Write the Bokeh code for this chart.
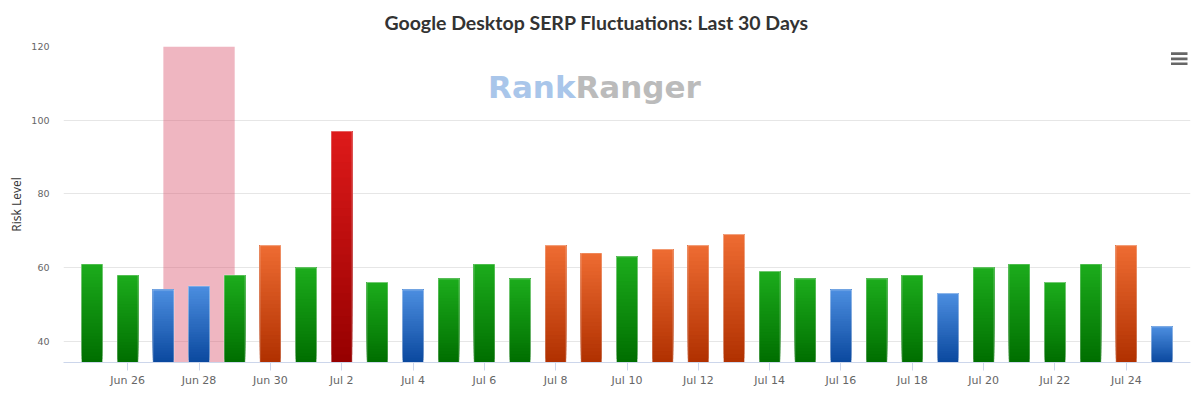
import numpy as np
from bokeh.plotting import figure
from bokeh.models import FixedTicker, Label, Range1d, ColumnDataSource, BoxAnnotation
from bokeh.embed import file_html
from bokeh.resources import INLINE

# ---------------- data ----------------
dates = ["Jun 25", "Jun 26", "Jun 27", "Jun 28", "Jun 29", "Jun 30", "Jul 1",
         "Jul 2", "Jul 3", "Jul 4", "Jul 5", "Jul 6", "Jul 7", "Jul 8", "Jul 9",
         "Jul 10", "Jul 11", "Jul 12", "Jul 13", "Jul 14", "Jul 15", "Jul 16",
         "Jul 17", "Jul 18", "Jul 19", "Jul 20", "Jul 21", "Jul 22", "Jul 23",
         "Jul 24", "Jul 25"]
risk = [61, 58, 54, 55, 58, 66, 60, 97, 56, 54, 57, 61, 57, 66, 64, 63, 65, 66,
        69, 59, 57, 54, 57, 58, 53, 60, 61, 56, 61, 66, 44]
level = ["green", "green", "blue", "blue", "green", "orange", "green", "red",
         "green", "blue", "green", "green", "green", "orange", "orange", "green",
         "orange", "orange", "orange", "green", "green", "blue", "green", "green",
         "blue", "green", "green", "green", "green", "orange", "blue"]
highlight = ["Jun 27", "Jun 29"]
y_ticks = [40, 60, 80, 100, 120]
title = "Google Desktop SERP Fluctuations: Last 30 Days"
y_label = "Risk Level"

# ---------------- styling ----------------
GRAD = {  # (bottom, top)
    "green": ((0, 110, 0), (28, 172, 28)),
    "blue": ((10, 72, 158), (76, 142, 224)),
    "orange": ((176, 48, 0), (238, 108, 50)),
    "red": ((150, 0, 0), (222, 26, 26)),
}
Y_MIN, Y_MAX = 34.3, 120
BAR_W = 0.59
N_SLICES = 30

x = np.arange(len(dates))

p = figure(width=1200, height=397, output_backend="svg", toolbar_location=None,
           x_range=Range1d(-0.8, len(dates) - 0.2), y_range=Range1d(Y_MIN, Y_MAX),
           min_border_left=63, min_border_right=10, min_border_top=46,
           min_border_bottom=35)
p.outline_line_color = None
p.background_fill_color = "white"
p.border_fill_color = "white"

p.title.text = title
p.title.align = "left"
p.title.offset = 321
p.title.vertical_align = "top"
p.title.standoff = 21
p.title.text_font = "Lato"
p.title.text_font_style = "bold"
p.title.text_font_size = "19.5px"
p.title.text_color = "#333333"

# highlight band
i0, i1 = dates.index(highlight[0]), dates.index(highlight[1])
p.quad(left=[x[i0]], right=[x[i1]], bottom=[Y_MIN], top=[Y_MAX],
       fill_color=(219, 93, 117), fill_alpha=0.45, line_color=None)

# gradient bars built from stacked slices (each drawn to the bar top)
L, R, B, T, C = [], [], [], [], []
for xi, v, lv in zip(x, risk, level):
    cb, ct = GRAD[lv]
    h = v - Y_MIN
    for k in range(N_SLICES):
        f0 = k / N_SLICES
        fm = (k + 0.5) / N_SLICES
        col = tuple(int(round(cb[j] + (ct[j] - cb[j]) * fm)) for j in range(3))
        L.append(xi - BAR_W / 2)
        R.append(xi + BAR_W / 2)
        B.append(Y_MIN + f0 * h)
        T.append(v)
        C.append("#%02x%02x%02x" % col)
src = ColumnDataSource(dict(left=L, right=R, bottom=B, top=T, color=C))
p.quad(left="left", right="right", bottom="bottom", top="top", fill_color="color",
       line_color=None, source=src)
p.vbar(x=x, width=BAR_W, bottom=Y_MIN, top=risk, fill_color=None,
       line_color="white", line_alpha=0.4, line_width=1)

# axes
p.xgrid.grid_line_color = None
p.ygrid.grid_line_color = "#e6e6e6"
p.ygrid.ticker = FixedTicker(ticks=y_ticks)

p.xaxis.ticker = FixedTicker(ticks=list(x[1::2]))
p.xaxis.major_label_overrides = {int(i): dates[i] for i in x[1::2]}
p.xaxis.axis_line_color = "#ccd6eb"
p.xaxis.major_tick_line_color = "#ccd6eb"
p.xaxis.major_tick_out = 8
p.xaxis.major_tick_in = 0
p.xaxis.minor_tick_line_color = None
p.xaxis.major_label_standoff = 3
p.xaxis.major_label_text_font = "DejaVu Sans"
p.xaxis.major_label_text_font_size = "11px"
p.xaxis.major_label_text_color = "#666666"

p.yaxis.ticker = FixedTicker(ticks=y_ticks)
p.yaxis.axis_line_color = None
p.yaxis.major_tick_line_color = None
p.yaxis.minor_tick_line_color = None
p.yaxis.major_tick_out = 0
p.yaxis.major_label_standoff = 14
p.yaxis.major_label_text_font = "DejaVu Sans"
p.yaxis.major_label_text_font_size = "9.5px"
p.yaxis.major_label_text_color = "#666666"
p.yaxis.axis_label = y_label
p.yaxis.axis_label_text_font = "Open Sans"
p.yaxis.axis_label_text_font_style = "normal"
p.yaxis.axis_label_text_font_size = "12px"
p.yaxis.axis_label_text_color = "#333333"
p.yaxis.axis_label_standoff = 3

# watermark (screen units relative to the frame)
p.add_layout(Label(x=512, y=276, x_units="screen", y_units="screen", text="Rank",
                   text_align="right", text_baseline="middle",
                   text_font="DejaVu Sans", text_font_style="bold",
                   text_font_size="31px", text_color="#a9c6ea"))
p.add_layout(Label(x=512, y=276, x_units="screen", y_units="screen", text="Ranger",
                   text_align="left", text_baseline="middle",
                   text_font="DejaVu Sans", text_font_style="bold",
                   text_font_size="31px", text_color="#bbbbbb"))

# menu icon: three short bars
for top_px in (310.3, 304.9, 300.1):
    p.add_layout(BoxAnnotation(left=1107.5, right=1124, top=top_px,
                               bottom=top_px - 2.7, left_units="screen",
                               right_units="screen", top_units="screen",
                               bottom_units="screen", fill_color="#666666",
                               fill_alpha=1, line_color=None))

open("out.html", "w").write(file_html(p, INLINE))
